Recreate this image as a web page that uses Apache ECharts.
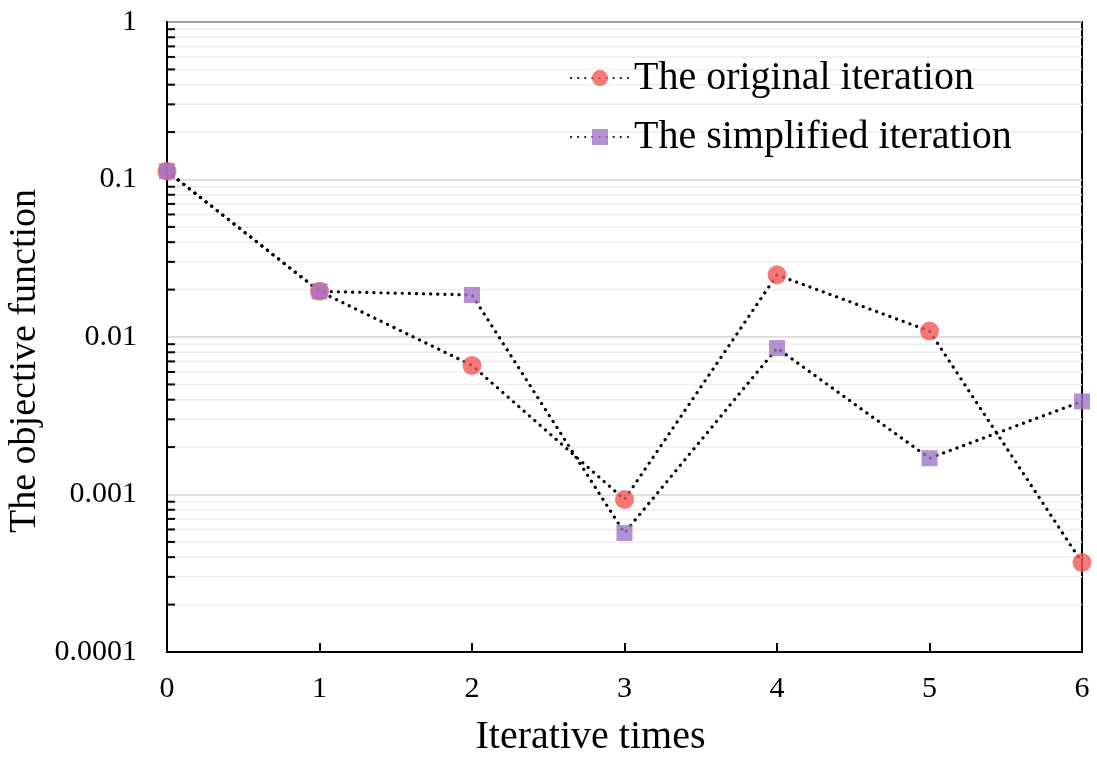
<!DOCTYPE html>
<html>
<head>
<meta charset="utf-8">
<script src="https://cdn.jsdelivr.net/npm/echarts@6/dist/echarts.min.js"></script>
<style>
  html, body { margin: 0; padding: 0; background: #fff; }
  #main { width: 1097px; height: 758px; }
</style>
</head>
<body>
<div id="main"></div>
<script>
// data
const iterations = ['0', '1', '2', '3', '4', '5', '6']
const originalIter = [0.113, 0.0195, 0.0066, 0.00093, 0.0248, 0.0109, 0.00037]
const simplifiedIter = [0.113, 0.0195, 0.0185, 0.00057, 0.0085, 0.0017, 0.0039]
const yMin = 0.0001
const yMax = 1

// minor grid values 2..9 x 10^k
const minorVals = []
for (let k = -4; k < 0; k++) {
  for (let m = 2; m <= 9; m++) minorVals.push(+(m * Math.pow(10, k)).toPrecision(3))
}

const font = '"Liberation Serif", "DejaVu Serif", serif'
const dotted = { color: '#000', width: 3.2, type: [0.1, 7], cap: 'round' }
let chart = echarts.init(document.getElementById('main'))

let option = {
  animation: false,
  grid: {
    left: 167, right: 15, top: 22, bottom: 106,
    outerBoundsMode: 'none',
    show: true, borderColor: '#000', borderWidth: 2
  },
  legend: {
    top: 53,
    left: 565,
    orient: 'vertical',
    itemGap: 19,
    itemWidth: 58,
    itemHeight: 20,
    textStyle: { fontFamily: font, fontSize: 40, color: '#000' },
    data: ['The original iteration', 'The simplified iteration']
  },
  xAxis: {
    type: 'category',
    data: iterations,
    boundaryGap: false,
    name: 'Iterative times',
    nameLocation: 'middle',
    nameGap: 65,
    nameTextStyle: { fontFamily: font, fontSize: 40, color: '#000', padding: [0, 68, 0, 0] },
    axisLine: { lineStyle: { color: '#000', width: 2 } },
    axisTick: { inside: true, length: 9, lineStyle: { color: '#000', width: 2 } },
    axisLabel: { fontFamily: font, fontSize: 30, color: '#000', margin: 22 },
    splitLine: { show: false }
  },
  yAxis: {
    type: 'log',
    logBase: 10,
    min: yMin,
    max: yMax,
    name: 'The objective function',
    nameLocation: 'middle',
    nameGap: 96,
    nameTextStyle: { fontFamily: font, fontSize: 38, color: '#000', padding: [0, 48, 0, 0] },
    axisLine: { show: true, lineStyle: { color: '#000', width: 2 } },
    axisTick: { show: false },
    axisLabel: {
      fontFamily: font, fontSize: 30, color: '#000', margin: 30,
      formatter: function (v) { return String(+v.toPrecision(2)) }
    },
    splitLine: { show: true, lineStyle: { color: '#d4d4d4', width: 1.5 } }
  },
  series: [
    {
      // minor gridlines + minor ticks along the y axis
      type: 'custom',
      silent: true,
      z: 1,
      data: minorVals.map(v => [0, v]),
      encode: { x: 0, y: 1 },
      renderItem: function (params, api) {
        const p = api.coord([0, api.value(1)])
        const cs = params.coordSys
        return {
          type: 'group',
          children: [
            { type: 'line', shape: { x1: cs.x, y1: p[1], x2: cs.x + cs.width, y2: p[1] }, style: { stroke: '#ececec', lineWidth: 1.5 } },
            { type: 'line', shape: { x1: cs.x, y1: p[1], x2: cs.x + 8, y2: p[1] }, style: { stroke: '#000', lineWidth: 2 } }
          ]
        }
      }
    },
    {
      name: 'The original iteration',
      type: 'line',
      data: originalIter,
      symbol: 'circle',
      symbolSize: 19,
      z: 3,
      itemStyle: { color: 'rgba(244, 88, 88, 0.8)' },
      lineStyle: dotted
    },
    {
      name: 'The simplified iteration',
      type: 'line',
      data: simplifiedIter,
      symbol: 'rect',
      symbolSize: 16,
      z: 3,
      itemStyle: { color: 'rgba(160, 118, 200, 0.8)' },
      lineStyle: dotted
    }
  ]
}
chart.setOption(option)
window.addEventListener('resize', function () {
  chart.resize()
})
</script>
</body>
</html>
